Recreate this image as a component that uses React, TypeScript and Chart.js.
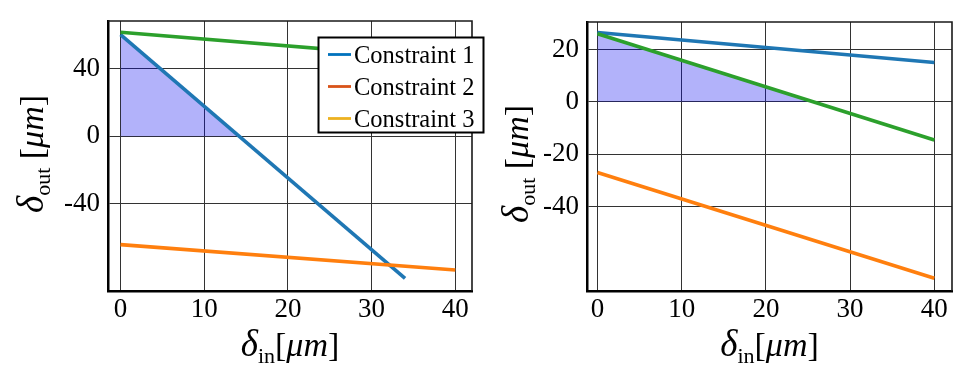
import React, { useEffect, useRef } from 'react';
import { Chart, registerables } from 'chart.js';

Chart.register(...registerables);

// ---- data ----
const xTickValues = [0, 10, 20, 30, 40];
const leftYTickValues = [-40, 0, 40];
const rightYTickValues = [-40, -20, 0, 20];

const leftBlueX = [0, 34];
const leftBlueY = [60, -84];
const leftGreenX = [0, 40];
const leftGreenY = [61.5, 45.3];
const leftOrangeX = [0, 40];
const leftOrangeY = [-64, -79];
const leftRegionX = [0, 14.2];
const leftRegionY = [60.5, 0];

const rightBlueX = [0, 40];
const rightBlueY = [26.5, 15];
const rightGreenX = [0, 40];
const rightGreenY = [26, -14.6];
const rightOrangeX = [0, 40];
const rightOrangeY = [-27, -67.4];
const rightRegionX = [0, 25.5];
const rightRegionY = [26, 0];

const legendLabels = ['Constraint 1', 'Constraint 2', 'Constraint 3'];
const legendColors = ['#0072BD', '#D95319', '#EDB120'];

const BLUE = '#1f77b4';
const GREEN = '#2ca02c';
const ORANGE = '#ff7f0e';
const REGION = 'rgba(0,0,240,0.3)';
const SERIF = '"Liberation Serif", "Times New Roman", serif';

const pts = (xs: number[], ys: number[]) => xs.map((x, i) => ({ x, y: ys[i] }));

type Part = { text: string; font: string; dy: number };

function drawParts(ctx: CanvasRenderingContext2D, parts: Part[], cx: number, baseline: number) {
  const widths = parts.map((p) => {
    ctx.font = p.font;
    return ctx.measureText(p.text).width;
  });
  const total = widths.reduce((a, b) => a + b, 0);
  let x = cx - total / 2;
  ctx.textAlign = 'left';
  ctx.textBaseline = 'alphabetic';
  ctx.fillStyle = '#000';
  parts.forEach((p, i) => {
    ctx.font = p.font;
    ctx.fillText(p.text, x, baseline + p.dy);
    x += widths[i];
  });
}

const xTitleParts: Part[] = [
  { text: 'δ', font: `italic 37px ${SERIF}`, dy: 0 },
  { text: 'in', font: `22px ${SERIF}`, dy: 7 },
  { text: '[', font: `34px ${SERIF}`, dy: 0 },
  { text: 'μm', font: `italic 34px ${SERIF}`, dy: 0 },
  { text: ']', font: `34px ${SERIF}`, dy: 0 },
];
const yTitleParts: Part[] = [
  { text: 'δ', font: `italic 37px ${SERIF}`, dy: 0 },
  { text: 'out', font: `22px ${SERIF}`, dy: 7 },
  { text: ' [', font: `34px ${SERIF}`, dy: 0 },
  { text: 'μm', font: `italic 34px ${SERIF}`, dy: 0 },
  { text: ']', font: `34px ${SERIF}`, dy: 0 },
];

type Spec = {
  width: number;
  xMin: number;
  xMax: number;
  yMin: number;
  yMax: number;
  yTicks: number[];
  blue: { x: number; y: number }[];
  green: { x: number; y: number }[];
  orange: { x: number; y: number }[];
  region: { x: number; y: number }[];
  padRight: number;
  padTop: number;
  yAxisWidth: number;
  xAxisHeight: number;
  xTitleBaseline: number;
  yTitleX: number;
  yTitleCenter: number;
  legend: boolean;
};

function makeConfig(spec: Spec): any {
  const framePlugin = {
    id: 'frame',
    afterDatasetsDraw(chart: any) {
      const { ctx, chartArea: a } = chart;
      ctx.save();
      ctx.strokeStyle = '#1a1a1a';
      ctx.lineWidth = 1.6;
      ctx.beginPath();
      ctx.moveTo(a.left, a.top);
      ctx.lineTo(a.right, a.top);
      ctx.lineTo(a.right, a.bottom);
      ctx.stroke();
      ctx.restore();
    },
  };
  const titlePlugin = {
    id: 'titles',
    afterDraw(chart: any) {
      const { ctx, chartArea: a } = chart;
      ctx.save();
      drawParts(ctx, xTitleParts, (a.left + a.right) / 2, spec.xTitleBaseline);
      ctx.translate(spec.yTitleX, spec.yTitleCenter);
      ctx.rotate(-Math.PI / 2);
      drawParts(ctx, yTitleParts, 0, 0);
      ctx.restore();
    },
  };
  const legendPlugin = {
    id: 'boxLegend',
    afterDraw(chart: any) {
      if (!spec.legend) return;
      const { ctx } = chart;
      const bx = 310.5, by = 29.5, bw = 165, bh = 95;
      ctx.save();
      ctx.fillStyle = '#fff';
      ctx.fillRect(bx, by, bw, bh);
      ctx.strokeStyle = '#000';
      ctx.lineWidth = 2;
      ctx.strokeRect(bx, by, bw, bh);
      ctx.font = `24.5px ${SERIF}`;
      ctx.textAlign = 'left';
      ctx.textBaseline = 'alphabetic';
      legendLabels.forEach((label, i) => {
        const ly = 46.5 + i * 32;
        ctx.strokeStyle = legendColors[i];
        ctx.lineWidth = 2.8;
        ctx.beginPath();
        ctx.moveTo(320, ly);
        ctx.lineTo(343, ly);
        ctx.stroke();
        ctx.fillStyle = '#000';
        ctx.fillText(label, 346, ly + 8.5);
      });
      ctx.restore();
    },
  };

  const lineDs = (data: any, color: string, order: number) => ({
    data,
    borderColor: color,
    borderWidth: 3.6,
    pointRadius: 0,
    fill: false,
    tension: 0,
    order,
  });

  return {
    type: 'line',
    data: {
      datasets: [
        {
          data: spec.region,
          fill: 'origin',
          backgroundColor: REGION,
          borderWidth: 0,
          borderColor: 'rgba(0,0,0,0)',
          pointRadius: 0,
          order: 10,
        },
        lineDs(spec.blue, BLUE, 3),
        lineDs(spec.green, GREEN, 2),
        lineDs(spec.orange, ORANGE, 1),
      ],
    },
    options: {
      animation: false,
      responsive: false,
      events: [],
      layout: { padding: { left: 0, right: spec.padRight, top: spec.padTop, bottom: 0 } },
      plugins: { legend: { display: false }, tooltip: { enabled: false }, title: { display: false } },
      scales: {
        x: {
          type: 'linear',
          min: spec.xMin,
          max: spec.xMax,
          afterBuildTicks: (s: any) => {
            s.ticks = xTickValues.map((v) => ({ value: v }));
          },
          afterFit: (s: any) => {
            s.height = spec.xAxisHeight;
            s.paddingLeft = 0;
            s.paddingRight = 0;
          },
          grid: { color: '#333', lineWidth: 1, drawTicks: false },
          border: { display: true, color: '#000', width: 2.5 },
          ticks: {
            color: '#000',
            font: { family: SERIF, size: 27 },
            padding: 3,
            maxRotation: 0,
            autoSkip: false,
            callback: (v: any) => String(v),
          },
        },
        y: {
          type: 'linear',
          min: spec.yMin,
          max: spec.yMax,
          afterBuildTicks: (s: any) => {
            s.ticks = spec.yTicks.map((v) => ({ value: v }));
          },
          afterFit: (s: any) => {
            s.width = spec.yAxisWidth;
            s.paddingTop = 0;
            s.paddingBottom = 0;
          },
          grid: { color: '#333', lineWidth: 1, drawTicks: false },
          border: { display: true, color: '#000', width: 2.5 },
          ticks: {
            color: '#000',
            font: { family: SERIF, size: 27 },
            padding: 8,
            autoSkip: false,
            callback: (v: any) => String(v),
          },
        },
      },
    },
    plugins: [framePlugin, titlePlugin, legendPlugin],
  };
}

const leftSpec: Spec = {
  width: 480,
  xMin: -1.5,
  xMax: 42,
  yMin: -91.4,
  yMax: 68.1,
  yTicks: leftYTickValues,
  blue: pts(leftBlueX, leftBlueY),
  green: pts(leftGreenX, leftGreenY),
  orange: pts(leftOrangeX, leftOrangeY),
  region: pts(leftRegionX, leftRegionY),
  padRight: 16,
  padTop: 13,
  yAxisWidth: 100,
  xAxisHeight: 77,
  xTitleBaseline: 348,
  yTitleX: 35,
  yTitleCenter: 146,
  legend: true,
};

const rightSpec: Spec = {
  width: 479,
  xMin: -1.24,
  xMax: 42.1,
  yMin: -72.3,
  yMax: 30.5,
  yTicks: rightYTickValues,
  blue: pts(rightBlueX, rightBlueY),
  green: pts(rightGreenX, rightGreenY),
  orange: pts(rightOrangeX, rightOrangeY),
  region: pts(rightRegionX, rightRegionY),
  padRight: 15,
  padTop: 14,
  yAxisWidth: 99,
  xAxisHeight: 77,
  xTitleBaseline: 348,
  yTitleX: 40,
  yTitleCenter: 156,
  legend: false,
};

function Panel({ spec }: { spec: Spec }) {
  const ref = useRef<HTMLCanvasElement | null>(null);
  useEffect(() => {
    if (!ref.current) return;
    const chart = new Chart(ref.current, makeConfig(spec));
    return () => chart.destroy();
  }, [spec]);
  return (
    <div style={{ width: spec.width, height: 360, flex: 'none' }}>
      <canvas ref={ref} width={spec.width} height={360} style={{ display: 'block', width: spec.width, height: 360 }} />
    </div>
  );
}

export default function App() {
  return (
    <div style={{ display: 'flex', width: 959, height: 360, overflow: 'hidden', background: '#fff' }}>
      <Panel spec={leftSpec} />
      <Panel spec={rightSpec} />
    </div>
  );
}
